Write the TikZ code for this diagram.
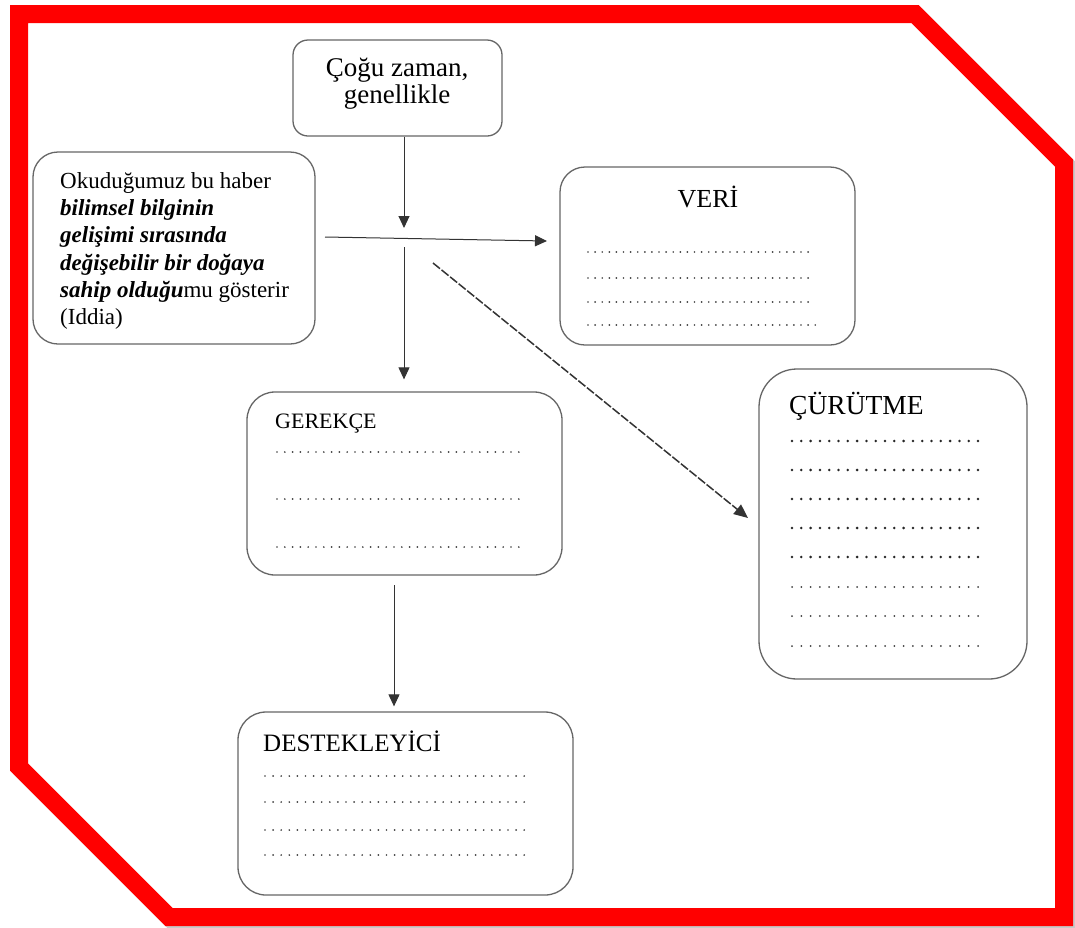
\documentclass[tikz,border=0pt]{standalone}
\usepackage{fontspec}
\setmainfont{Liberation Serif}
\usetikzlibrary{arrows.meta,positioning}

\tikzset{
  kutu/.style={draw=black!60, line width=1.3pt, rounded corners=#1, fill=white, inner sep=0pt},
  kutu/.default=25pt,
  ok/.style={draw=black!80, line width=1pt, -{Triangle[length=12pt,width=11pt]}},
  nokta/.style={black!75, line width=1.9pt, line cap=round, dash pattern=on 0pt off #1},
  baslik/.style={anchor=base west, inner sep=0pt, font=\fontsize{25}{25}\selectfont}
}

\begin{document}
\begin{tikzpicture}[x=1pt,y=-1pt] %[1 unit = 1 px]
\useasboundingbox (0,0) rectangle (1075,927);

% cerceve
\begin{scope}[shift={(3,3)}]
\draw[black!30, line width=18pt, line join=miter, opacity=0.7] (19,14) -- (915,14) -- (1064,163) -- (1064,917) -- (169,917) -- (19,767) -- cycle;
\end{scope}
\fill[white] (19,14) -- (915,14) -- (1064,163) -- (1064,917) -- (169,917) -- (19,767) -- cycle;
\draw[red, line width=18pt, line join=miter] (19,14) -- (915,14) -- (1064,163) -- (1064,917) -- (169,917) -- (19,767) -- cycle;

% kutular
\node[kutu=15pt, minimum width=209pt, minimum height=96pt] (sik) at (397.5,88) {};
\node[kutu, minimum width=282pt, minimum height=192pt] (iddia) at (174,248) {};
\node[kutu, minimum width=295pt, minimum height=178pt] (veri) at (707.5,256) {};
\node[kutu=28pt, minimum width=315pt, minimum height=183pt] (gerekce) at (404.5,483.5) {};
\node[kutu=38pt, minimum width=268pt, minimum height=310pt] (curutme) at (893,524) {};
\node[kutu=28pt, minimum width=335pt, minimum height=183pt] (destek) at (405.5,803.5) {};

% yazilar
\node[anchor=north, align=center, inner sep=0pt, font=\fontsize{27}{27}\selectfont] (sikyazi) at (397,58) {Çoğu zaman,\\genellikle};
\node[anchor=north west, align=left, inner sep=0pt, font=\fontsize{23}{27.3}\selectfont] (iddiayazi) at (60,172)
  {Okuduğumuz bu haber\\
   \textbf{\textit{bilimsel bilginin}}\\
   \textbf{\textit{gelişimi sırasında}}\\
   \textbf{\textit{değişebilir bir doğaya}}\\
   \textbf{\textit{sahip olduğu}}mu gösterir\\
   (Iddia)};
\node[baslik, anchor=base, font=\fontsize{26}{26}\selectfont] (veribas) at (708,207) {VERİ};
\node[baslik, font=\fontsize{22}{22}\selectfont] (gerekcebas) at (275,428) {GEREKÇE};
\node[baslik, font=\fontsize{27.5}{27.5}\selectfont] (curutmebas) at (789,414) {ÇÜRÜTME};
\node[baslik] (destekbas) at (263,751) {DESTEKLEYİCİ};

% noktali satirlar
\foreach \y in {252,278,302} {
\draw[nokta=7.1pt] (588,\y) -- (815,\y);
}
\draw[nokta=7.1pt] (588,325) -- (822,325);
\foreach \y in {452,499,547} {
\draw[nokta=7.8pt] (277,\y) -- (525,\y);
}
\foreach \y in {441,470,499,528,557} {
\draw[nokta=9.3pt, line width=2.8pt, black!85] (792,\y) -- (978,\y);
}
\foreach \y in {587,616,646} {
\draw[nokta=9.3pt, line width=2pt] (792,\y) -- (978,\y);
}
\foreach \y in {776,802,830,855} {
\draw[nokta=8.1pt] (265,\y) -- (532,\y);
}

% oklar
\coordinate (k1) at (404,228);
\coordinate (y1) at (325,237);
\coordinate (y2) at (547,241);
\coordinate (k2) at (404,247);
\coordinate (c1) at (433,263);
\coordinate (c2) at (748,518);
\coordinate (g1) at (394,585);
\draw[ok] (sik.south -| k1) -- (k1);
\draw[ok] (y1) -- (y2);
\draw[ok, shorten >=12pt] (k2) -- (k2 |- gerekce.north);
\draw[ok, line width=1.5pt, dash pattern=on 9pt off 2pt, -{Triangle[length=14pt,width=12pt]}] (c1) -- (c2);
\draw[ok, shorten >=5pt] (g1) -- (g1 |- destek.north);

\end{tikzpicture}
\end{document}
